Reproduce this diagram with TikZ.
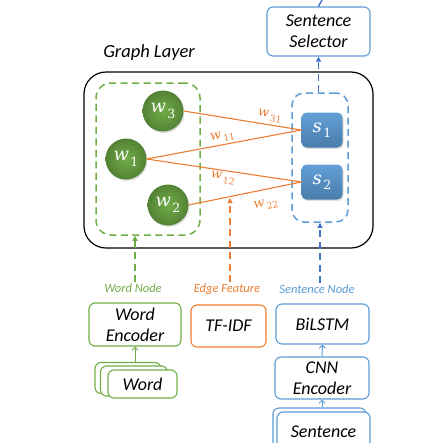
\documentclass[tikz,border=0pt]{standalone}
\usepackage{fontspec}
\setmainfont{Carlito}
\newfontfamily\varfam{DejaVu Serif}
\usetikzlibrary{arrows.meta,shadows}
\definecolor{wgreen}{HTML}{70AD47}
\definecolor{eorange}{HTML}{ED7D31}
\definecolor{sblue}{HTML}{5B9BD5}
\definecolor{darkblue}{HTML}{4472C4}
% variable with an upright index
\newcommand{\var}[2]{{\varfam\itshape #1}\kern1.5pt\raisebox{-0.3em}{\scalebox{0.7}{\varfam\upshape #2}}}
\tikzset{
  wordnode/.style={circle, inner sep=0pt, minimum size=41pt, text=white,
    inner color=wgreen, outer color=wgreen!75!black,
    font=\fontsize{18}{22}\selectfont\upshape,
    drop shadow={opacity=0.25, shadow xshift=1pt, shadow yshift=-1.5pt}},
  sentnode/.style={rounded corners=5pt, inner sep=0pt, minimum width=41pt, minimum height=35pt,
    text=white, top color=sblue!95!white, bottom color=sblue!80!black,
    font=\fontsize{18}{22}\selectfont\upshape,
    drop shadow={opacity=0.25, shadow xshift=1pt, shadow yshift=-1.5pt}},
  encbox/.style={draw, rounded corners=6pt, line width=1.1pt, inner sep=0pt, align=center,
    font=\fontsize{18}{21}\selectfont\itshape, fill=white},
  grouplabel/.style={font=\fontsize{12.5}{14}\selectfont\itshape, inner sep=1pt},
  weight/.style={text=eorange, font=\fontsize{13}{16}\selectfont\upshape, inner sep=2pt},
  dasharrow/.style={line width=1.4pt, dash pattern=on 7pt off 4.5pt,
    -{Triangle[length=5pt,width=5pt]}},
  feedarrow/.style={line width=1pt, -{Straight Barb[length=3pt,width=6pt]}}
}
\begin{document}
\begin{tikzpicture}[x=1pt,y=1pt]
		\useasboundingbox (0,0) rectangle (444,-442);
		\clip (0,0) rectangle (444,-442);

		% Graph layer
		\node[draw, line width=1.2pt, rounded corners=22pt, minimum width=289pt, minimum height=176pt] (layer) at (228.5,-160) {};
		\node[font=\fontsize{18.5}{20}\selectfont\itshape] (gltitle) at (149,-53) {Graph Layer};
		\node[draw=wgreen, line width=1.5pt, dash pattern=on 7pt off 4.5pt, rounded corners=15pt, minimum width=104pt, minimum height=152pt] (wgroup) at (148,-159) {};
		\node[draw=sblue, line width=1.5pt, dash pattern=on 7pt off 4.5pt, rounded corners=12pt, minimum width=56pt, minimum height=129pt] (sgroup) at (320,-157.5) {};

		\node[wordnode] (w3) at (163,-111) {\var{w}{3}};
		\node[wordnode] (w1) at (126,-159) {\var{w}{1}};
		\node[wordnode] (w2) at (168,-205) {\var{w}{2}};
		\node[sentnode] (s1) at (322,-130) {\var{s}{1}};
		\node[sentnode] (s2) at (322,-182) {\var{s}{2}};

		\draw[eorange, line width=1.1pt] (w3.east) -- node[weight, sloped, above, pos=0.72, yshift=1pt] {\var{w}{31}} (s1.west);
		\draw[eorange, line width=1.1pt] (w1.east) -- node[weight, sloped, above, pos=0.5] {\var{w}{11}} (s1.west);
		\draw[eorange, line width=1.1pt] (w1.east) -- node[weight, sloped, below, pos=0.5] {\var{w}{12}} (s2.west);
		\draw[eorange, line width=1.1pt] (w2.east) -- node[weight, sloped, below, pos=0.66, yshift=-7pt] {\var{w}{22}} (s2.west);

		% Sentence selector
		\node[encbox, draw=sblue, minimum width=103pt, minimum height=49pt] (selector) at (318.5,-31.5) {Sentence\\Selector};
		\coordinate (out) at (322,0);
		\draw[dasharrow, darkblue] (sgroup.north -| selector.south) -- (selector.south);
		\draw[line width=1.4pt, darkblue] (selector.north) -- (out);

		% Inputs of the graph
		\node[grouplabel, text=wgreen] (wlab) at (133,-288) {Word Node};
		\node[grouplabel, text=eorange] (elab) at (227,-289) {Edge Feature};
		\node[grouplabel, text=sblue] (slab) at (317,-289) {Sentence Node};
		\coordinate (etip) at (230,-198);

		\draw[dasharrow, wgreen] (wlab.north -| 135,0) -- (135,0 |- wgroup.south);
		\draw[dasharrow, eorange] (elab.north -| etip) -- (etip);
		\draw[dasharrow, darkblue] (slab.north -| 320,0) -- (320,0 |- sgroup.south);

		% Encoders
		\node[encbox, draw=wgreen, minimum width=92pt, minimum height=43pt] (wenc) at (135,-324.5) {Word\\Encoder};
		\node[encbox, draw=eorange, minimum width=75pt, minimum height=42pt] (tfidf) at (228.5,-326) {TF-IDF};
		\node[encbox, draw=sblue, minimum width=93pt, minimum height=40pt] (bilstm) at (322.5,-324) {BiLSTM};
		\node[encbox, draw=sblue, minimum width=94pt, minimum height=42pt] (cnn) at (322,-378) {CNN\\Encoder};

		\node[encbox, draw=wgreen, minimum width=66pt, minimum height=31pt] (wordback) at (128,-378) {};
		\node[encbox, draw=wgreen, minimum width=67pt, minimum height=30pt] (wordmid) at (134,-381) {};
		\node[encbox, draw=wgreen, minimum width=69pt, minimum height=28pt] (wordfront) at (142.5,-384) {Word};

		\node[encbox, draw=sblue, minimum width=93pt, minimum height=40pt] (sentback) at (319.5,-428) {};
		\node[encbox, draw=sblue, minimum width=93pt, minimum height=40pt] (sentfront) at (323.5,-432) {Sentence};

		\draw[feedarrow, wgreen] (wordback.north -| wenc.south) -- (wenc.south);
		\draw[feedarrow, sblue] (cnn.north) -- (bilstm.south);
		\draw[feedarrow, sblue] (sentback.north -| cnn.south) -- (cnn.south);
	\end{tikzpicture}
\end{document}
